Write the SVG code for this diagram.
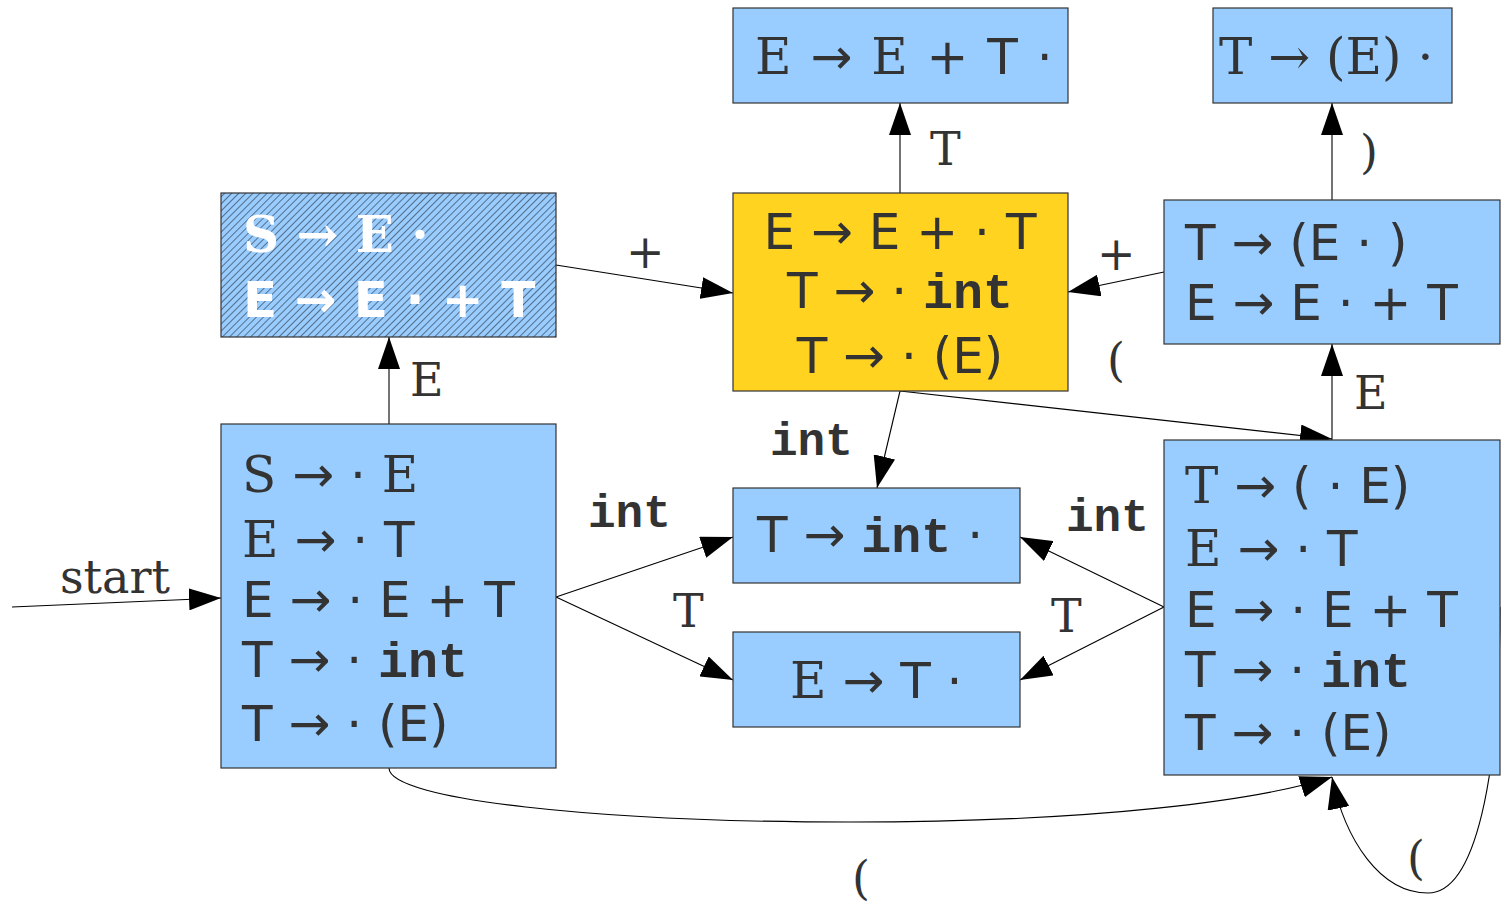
<svg xmlns="http://www.w3.org/2000/svg" width="1507" height="903" viewBox="0 0 1507 903">
<style>
.box{fill:#99ccff;stroke:#333;stroke-width:1.2}
.yel{fill:#ffd320;stroke:#333;stroke-width:1.2}
.hat{fill:url(#h);stroke:#333;stroke-width:1.2}
text{fill:#333;font-family:"DejaVu Sans",sans-serif;font-size:50px}
.sf{font-family:"DejaVu Serif",serif}
.m{font-family:"Liberation Mono",monospace;font-weight:bold}
.w{fill:#fff;font-weight:bold}
.lab{font-size:46px}
.c{fill:none;stroke:#000;stroke-width:1.1}
</style>
<defs>
<marker id="a" viewBox="0 0 32 22" refX="32" refY="11" markerWidth="32" markerHeight="22" orient="auto" markerUnits="userSpaceOnUse">
<path d="M0,0 L32,11 L0,22 z" fill="#000"/>
</marker>
<pattern id="h" width="5" height="5" patternUnits="userSpaceOnUse" patternTransform="rotate(45)">
<rect width="5" height="5" fill="#99ccff"/>
<line x1="0" y1="0" x2="0" y2="5" stroke="#111" stroke-width="1"/>
</pattern>
</defs>

<g id="connectors">
<line class="c" x1="12" y1="607" x2="221" y2="598" marker-end="url(#a)"/>
<line class="c" x1="389" y1="424" x2="389" y2="337" marker-end="url(#a)"/>
<line class="c" x1="556" y1="265" x2="733" y2="293" marker-end="url(#a)"/>
<line class="c" x1="900" y1="193" x2="900" y2="103" marker-end="url(#a)"/>
<line class="c" x1="1164" y1="272" x2="1068" y2="292" marker-end="url(#a)"/>
<line class="c" x1="1332" y1="200" x2="1332" y2="103" marker-end="url(#a)"/>
<line class="c" x1="1332" y1="440" x2="1332" y2="344" marker-end="url(#a)"/>
<line class="c" x1="900" y1="391" x2="1332" y2="439" marker-end="url(#a)"/>
<line class="c" x1="900" y1="391" x2="877" y2="488" marker-end="url(#a)"/>
<line class="c" x1="556" y1="597" x2="733" y2="537" marker-end="url(#a)"/>
<line class="c" x1="556" y1="597" x2="733" y2="680" marker-end="url(#a)"/>
<line class="c" x1="1164" y1="607" x2="1020" y2="537" marker-end="url(#a)"/>
<line class="c" x1="1164" y1="607" x2="1020" y2="680" marker-end="url(#a)"/>
<path class="c" d="M389,768 C389,800 600,822 850,822 C1100,822 1260,800 1332,777" marker-end="url(#a)"/>
<path class="c" d="M1500,607 C1500,780 1475,893 1428,893 C1380,893 1345,840 1332,777" marker-end="url(#a)"/>
<text class="lab sf" x="930" y="165">T</text>
<text class="lab sf" x="1360" y="168">)</text>
<text class="lab sf" x="626" y="268">+</text>
<text class="lab sf" x="1097" y="270">+</text>
<text class="lab sf" x="410" y="396">E</text>
<text class="lab sf" x="1107" y="376">(</text>
<text class="lab sf" x="1354" y="409">E</text>
<text class="lab m" x="770" y="455">int</text>
<text class="lab m" x="588" y="527">int</text>
<text class="lab m" x="1066" y="531">int</text>
<text class="lab sf" x="673" y="627">T</text>
<text class="lab sf" x="1051" y="632">T</text>
<text class="lab sf" x="60" y="593">start</text>
<text class="lab sf" x="852" y="894">(</text>
<text class="lab sf" x="1407" y="874">(</text>
</g>

<g id="n-top-mid">
<rect class="box" x="733" y="8" width="335" height="95"/>
<text x="755" y="74" word-spacing="3"><tspan class="sf">E</tspan> → <tspan class="sf">E</tspan> + T ·</text>
</g>
<g id="n-top-right">
<rect class="box" x="1213" y="8" width="239" height="95"/>
<text class="sf" x="1219" y="74">T → (E) ·</text>
</g>
<g id="n-accept">
<rect class="hat" x="221" y="193" width="335" height="144"/>
<text class="w sf" x="243" y="252">S → E ·</text>
<text class="w" x="243" y="317">E → E · + T</text>
</g>
<g id="n-yellow">
<rect class="yel" x="733" y="193" width="335" height="198"/>
<text x="900" y="249" text-anchor="middle">E → E + · T</text>
<text x="900" y="308" text-anchor="middle">T → · <tspan class="m">int</tspan></text>
<text x="900" y="373" text-anchor="middle">T → · (E)</text>
</g>
<g id="n-right-mid">
<rect class="box" x="1164" y="200" width="336" height="144"/>
<text x="1185" y="260">T → (E · )</text>
<text x="1185" y="320">E → E · + T</text>
</g>
<g id="n-start">
<rect class="box" x="221" y="424" width="335" height="344"/>
<text x="242" y="492"><tspan class="sf">S</tspan> → · <tspan class="sf">E</tspan></text>
<text x="242" y="557"><tspan class="sf">E</tspan> → · T</text>
<text x="242" y="617">E → · E + T</text>
<text x="242" y="677">T → · <tspan class="m">int</tspan></text>
<text x="242" y="741">T → · (E)</text>
</g>
<g id="n-int">
<rect class="box" x="733" y="488" width="287" height="95"/>
<text x="757" y="552">T → <tspan class="m">int</tspan> ·</text>
</g>
<g id="n-et">
<rect class="box" x="733" y="632" width="287" height="95"/>
<text x="790" y="698"><tspan class="sf">E</tspan> → T ·</text>
</g>
<g id="n-paren">
<rect class="box" x="1164" y="440" width="336" height="335"/>
<text x="1185" y="503"><tspan class="sf">T</tspan> → ( · E)</text>
<text x="1185" y="566"><tspan class="sf">E</tspan> → · T</text>
<text x="1185" y="627">E → · E + T</text>
<text x="1185" y="687">T → · <tspan class="m">int</tspan></text>
<text x="1185" y="750">T → · (E)</text>
</g>
</svg>
